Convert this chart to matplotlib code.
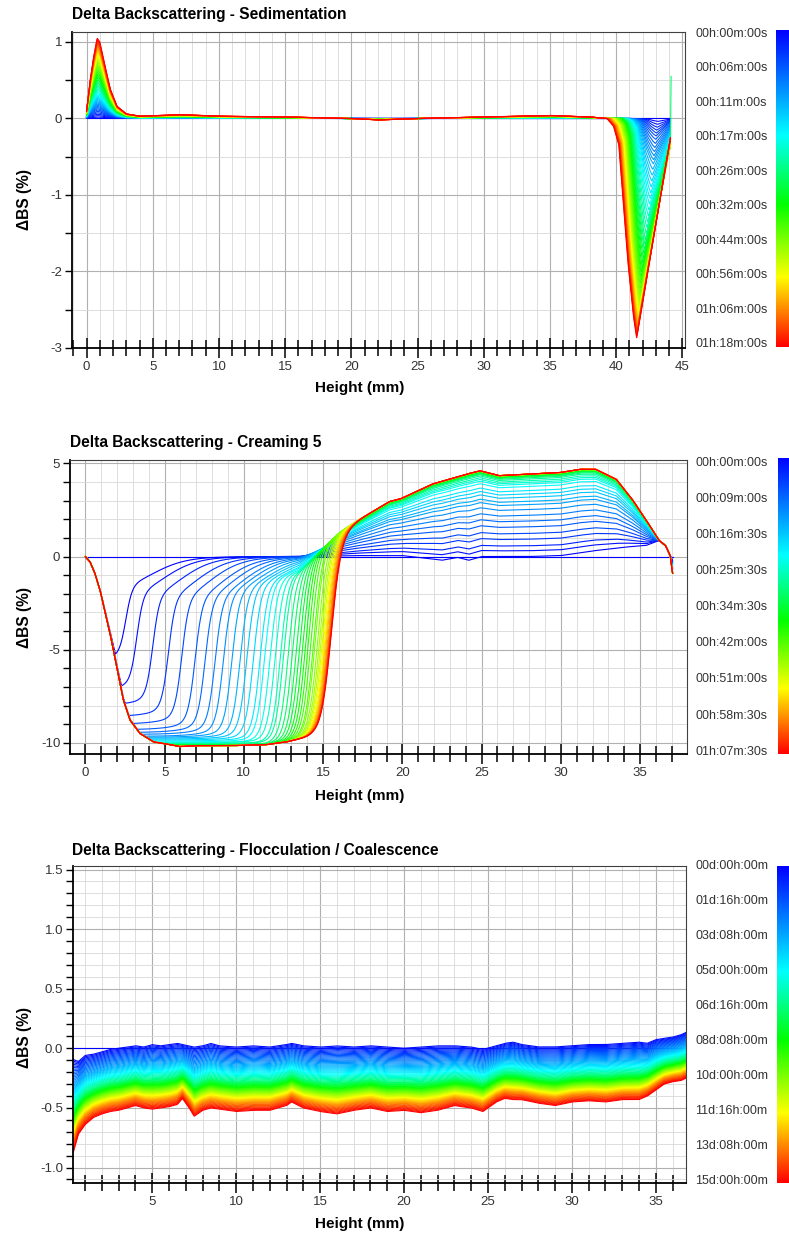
import numpy as np
import matplotlib
matplotlib.use("Agg")
import matplotlib.pyplot as plt
from matplotlib.colors import LinearSegmentedColormap
from matplotlib.ticker import FixedLocator, FormatStrFormatter

plt.rcParams['font.family'] = ['Liberation Sans', 'DejaVu Sans']
plt.rcParams['axes.unicode_minus'] = False

# time colour scale (blue = start, red = end)
cmap = LinearSegmentedColormap.from_list(
    'bs_time', [(0, '#0000ff'), (0.33, '#00ffff'), (0.55, '#00ff00'),
                (0.78, '#ffff00'), (1, '#ff0000')])

# ---------------- panel 1 : sedimentation ----------------
sed_times = ['00h:00m:00s', '00h:06m:00s', '00h:11m:00s', '00h:17m:00s', '00h:26m:00s',
             '00h:32m:00s', '00h:44m:00s', '00h:56m:00s', '01h:06m:00s', '01h:18m:00s']
# values read at each colourbar time
sed_peak = [0, 0.12, 0.22, 0.32, 0.45, 0.58, 0.72, 0.84, 0.95, 1.05]
sed_depth = [0, 0.25, 0.6, 1.1, 1.6, 2.0, 2.35, 2.6, 2.75, 2.87]
sed_min_x = [43.2, 43.0, 42.8, 42.55, 42.2, 41.95, 41.8, 41.7, 41.6, 41.55]
sed_onset_x = [41.8, 41.3, 41.0, 40.8, 40.6, 40.4, 40.1, 39.8, 39.5, 39.3]
sed_end_y = [0, -0.05, -0.15, -0.25, -0.3, -0.35, -0.35, -0.3, -0.28, -0.25]
# last profile: peak at the bottom of the tube and flat middle
sed_shape_x = [0, 0.25, 0.5, 0.8, 1.0, 1.4, 1.8, 2.3, 3.0, 4.0, 7, 10, 15, 20, 22, 25, 30, 35, 38, 39.3, 44.1]
sed_shape_y = [0.1, 0.47, 0.77, 1.05, 1.0, 0.68, 0.38, 0.16, 0.06, 0.03, 0.05, 0.03, 0.02, 0.0,
               -0.02, 0.0, 0.02, 0.04, 0.02, 0.0, 0.0]
# shape of the dip at the top (fraction of width, fraction of depth)
sed_dip_u = [0, 0.22, 0.4, 0.53, 0.71, 0.89, 1]
sed_dip_v = [0, 0.035, 0.12, 0.35, 0.66, 0.9, 1]
sed_end_x = 44.1

# ---------------- panel 2 : creaming ----------------
cream_times = ['00h:00m:00s', '00h:09m:00s', '00h:16m:30s', '00h:25m:30s', '00h:34m:30s',
               '00h:42m:00s', '00h:51m:00s', '00h:58m:30s', '01h:07m:30s']
# clarification front of each scan (mm) and its lowest level (%)
cream_front = [2.55, 3.24, 4.25, 5.24, 6.08, 6.92, 7.55, 8.18, 8.7, 9.24, 9.76, 10.18, 10.6, 11.02,
               11.3, 11.65, 11.97, 12.3, 12.5, 12.8, 13.06, 13.3, 13.5, 13.7, 13.88, 14.05, 14.22,
               14.4, 14.5, 14.66, 14.78, 14.88, 14.97, 15.05, 15.12, 15.18, 15.24, 15.3, 15.35,
               15.4, 15.43, 15.46, 15.48, 15.5]
cream_bottom = [-5.6, -7.2, -8.0, -8.6, -9.0, -9.3, -9.45, -9.55, -9.65, -9.7, -9.75, -9.8, -9.85,
                -9.9, -9.95, -10.0, -10.0, -10.05, -10.05, -10.1, -10.1, -10.1, -10.1, -10.15,
                -10.15, -10.15, -10.15, -10.2, -10.2, -10.2, -10.2, -10.2, -10.2, -10.2, -10.2,
                -10.2, -10.2, -10.2, -10.2, -10.2, -10.2, -10.2, -10.2, -10.2]
# level of the cream layer, as a fraction between the first and last scan
cream_level = [0.0, 0.07, 0.13, 0.21, 0.28, 0.36, 0.43, 0.5, 0.57, 0.63, 0.67, 0.72, 0.76, 0.8,
               0.85, 0.88, 0.9, 0.92, 0.94, 0.955, 0.965, 0.975, 0.98, 0.985, 0.99, 0.99, 0.993,
               0.995, 0.996, 0.997, 0.998, 0.998, 0.999, 0.999, 1, 1, 1, 1, 1, 1, 1, 1, 1, 1]
# bottom of the tube, descending edge of the last scan
cream_desc_x = [0, 0.3, 0.6, 0.93, 1.56, 1.98, 2.4, 2.82, 3.45, 4.3, 5.1, 5.97, 7.0, 9.33, 11.4,
                12.7, 13.5, 14.4, 16, 37.2]
cream_desc_y = [0, -0.3, -0.9, -1.82, -4.14, -5.93, -7.7, -8.78, -9.5, -9.95, -10.06, -10.2,
                -10.15, -10.15, -10.1, -9.95, -9.8, -9.65, -9.6, -9.6]
# cream layer of the last scan
cream_top_x = [0, 13.5, 17.3, 19.2, 19.9, 21.9, 24.1, 24.9, 26.1, 28.2, 29.9, 31.2, 32.2, 33.5,
               34.5, 35.4, 36.2, 36.6, 36.9, 37.05]
cream_top_y = [0, 0, 2.0, 2.95, 3.1, 3.89, 4.43, 4.6, 4.34, 4.43, 4.5, 4.68, 4.68, 4.14, 3.07,
               1.93, 0.86, 0.59, 0.05, -0.9]
# cream layer of the first scan
cream_first_x = [0, 14, 17, 20, 21, 22.5, 23.5, 24.2, 25, 28, 30, 32, 34, 35.4, 36.2, 36.6, 36.9, 37.05]
cream_first_y = [0, 0, 0.05, 0.05, -0.05, -0.2, -0.05, -0.2, 0, 0, 0.05, 0.3, 0.5, 0.6, 0.86,
                 0.59, 0.05, -0.2]

# ---------------- panel 3 : flocculation / coalescence ----------------
floc_times = ['00d:00h:00m', '01d:16h:00m', '03d:08h:00m', '05d:00h:00m', '06d:16h:00m',
              '08d:08h:00m', '10d:00h:00m', '11d:16h:00m', '13d:08h:00m', '15d:00h:00m']
floc_x = [0.3, 0.6, 1.0, 1.5, 2.0, 2.5, 3.0, 3.5, 4.0, 4.5, 5.0, 5.5, 6.0, 6.5, 6.8, 7.2, 7.5, 8.0,
          8.5, 9.0, 10, 11, 12, 13, 13.3, 14, 15, 16, 17, 18, 19, 20, 21, 22, 23, 24, 24.7, 25.5,
          26, 26.5, 27, 28, 29, 30, 31, 32, 33, 34, 34.5, 35, 35.5, 36, 36.5, 36.8]
floc_top = [-0.08, -0.1, -0.05, -0.04, -0.02, 0.0, 0.01, 0.02, 0.03, 0.02, 0.04, 0.03, 0.04, 0.05,
            0.04, 0.03, 0.02, 0.03, 0.05, 0.03, 0.02, 0.03, 0.02, 0.04, 0.05, 0.03, 0.02, 0.03,
            0.02, 0.03, 0.02, 0.01, 0.02, 0.03, 0.03, 0.02, 0.0, 0.03, 0.05, 0.06, 0.04, 0.02,
            0.02, 0.03, 0.04, 0.04, 0.05, 0.06, 0.05, 0.08, 0.09, 0.1, 0.12, 0.14]
floc_bottom = [-0.87, -0.72, -0.64, -0.58, -0.55, -0.53, -0.52, -0.5, -0.48, -0.5, -0.51, -0.5,
               -0.49, -0.47, -0.42, -0.5, -0.57, -0.52, -0.5, -0.51, -0.53, -0.52, -0.52, -0.48,
               -0.45, -0.5, -0.53, -0.55, -0.52, -0.5, -0.53, -0.52, -0.54, -0.52, -0.48, -0.5,
               -0.53, -0.45, -0.42, -0.43, -0.43, -0.46, -0.48, -0.45, -0.44, -0.45, -0.43, -0.43,
               -0.4, -0.35, -0.3, -0.28, -0.27, -0.25]
# position of each colourbar time inside the band (0 = top, 1 = bottom)
floc_level = [0, 0.15, 0.3, 0.43, 0.55, 0.64, 0.72, 0.8, 0.89, 1.0]

W, H = 789, 1236
fig = plt.figure(figsize=(W / 100, H / 100), dpi=100)


def rect(left, top, right, bottom):
    return [left / W, 1 - bottom / H, (right - left) / W, (bottom - top) / H]


def style(ax, xlim, ylim, xmaj, xmin, ymaj, ymin, yfmt):
    ax.set_xlim(*xlim)
    ax.set_ylim(*ylim)
    ax.xaxis.set_major_locator(FixedLocator(xmaj))
    ax.xaxis.set_minor_locator(FixedLocator(xmin))
    ax.yaxis.set_major_locator(FixedLocator(ymaj))
    ax.yaxis.set_minor_locator(FixedLocator(ymin))
    ax.yaxis.set_major_formatter(FormatStrFormatter(yfmt))
    ax.grid(which='major', color='#b0b0b0', lw=0.8)
    ax.grid(which='minor', color='#d8d8d8', lw=0.6)
    ax.set_axisbelow(True)
    ax.tick_params(axis='x', which='major', direction='inout', length=15, width=1.1,
                   labelsize=9.5, labelcolor='#333333', pad=2)
    ax.tick_params(axis='x', which='minor', direction='inout', length=11, width=1.1)
    ax.tick_params(axis='y', which='both', direction='out', length=5, width=1.0,
                   labelsize=9.5, labelcolor='#333333', pad=2)
    for s in ['left', 'bottom']:
        ax.spines[s].set_linewidth(1.3)
        ax.spines[s].set_color('black')
    for s in ['top', 'right']:
        ax.spines[s].set_linewidth(0.8)
        ax.spines[s].set_color('#404040')


def colorbar(cb_rect, labels, y_top, y_bot):
    cax = fig.add_axes(cb_rect)
    cax.imshow(np.linspace(0, 1, 256)[:, None], aspect='auto', cmap=cmap)
    cax.axis('off')
    for lab, yy in zip(labels, np.linspace(y_top, y_bot, len(labels))):
        fig.text(695 / W, 1 - yy / H, lab, fontsize=9, color='#333333', va='center', ha='left')


def labels(title, title_x, title_y, xlab_y, ylab_y):
    fig.text(title_x / W, 1 - title_y / H, title, fontsize=11.2, fontweight='bold', va='center')
    fig.text(360 / W, 1 - xlab_y / H, 'Height (mm)', fontsize=11, fontweight='bold',
             va='center', ha='center')
    fig.text(25 / W, 1 - ylab_y / H, 'ΔBS (%)', fontsize=11.2, fontweight='bold',
             va='center', ha='center', rotation=90)


def logistic(z):
    return 1 / (1 + np.exp(-z))


# ---- panel 1
ax1 = fig.add_axes(rect(72, 32, 685, 348))
style(ax1, (-1.1, 45.2), (-3, 1.13), np.arange(0, 46, 5), np.arange(-1, 46, 1),
      [-3, -2, -1, 0, 1], np.arange(-3, 1.1, 0.5), '%d')
lab_f = np.linspace(0, 1, len(sed_times))
n1 = 60
x1 = np.linspace(0, sed_end_x, 1400)
base1 = np.interp(x1, sed_shape_x, sed_shape_y) / 1.05
ax1.plot([0, sed_end_x], [0, 0], color=cmap(0.0), lw=0.8)
for f in np.linspace(0, 1, n1)[1:]:
    h = np.interp(f, lab_f, sed_peak)
    d = np.interp(f, lab_f, sed_depth)
    m = np.interp(f, lab_f, sed_min_x)
    L = np.interp(f, lab_f, sed_onset_x)
    e = np.interp(f, lab_f, sed_end_y)
    left = -d * np.interp((x1 - L) / (m - L), sed_dip_u, sed_dip_v)
    right = -d + (d + e) * (x1 - m) / (sed_end_x - m)
    y = base1 * h + np.where(x1 <= m, left, right)
    xs, ys = x1, y
    if abs(f - 0.45) < 0.5 / n1:
        xs, ys = np.append(x1, 44.15), np.append(y, 0.55)
    ax1.plot(xs, ys, color=cmap(f), lw=0.8)
colorbar(rect(776, 30, 789, 347), sed_times, 34, 344)
labels('Delta Backscattering - Sedimentation', 72, 15, 388, 200)

# ---- panel 2
ax2 = fig.add_axes(rect(70, 460, 687, 754))
style(ax2, (-0.97, 37.96), (-10.6, 5.18), np.arange(0, 36, 5), np.arange(0, 38, 1),
      [-10, -5, 0, 5], np.arange(-10, 6, 1), '%d')
x2 = np.linspace(0, 37.05, 1600)
desc = np.interp(x2, cream_desc_x, cream_desc_y)
top = np.interp(x2, cream_top_x, cream_top_y)
first = np.interp(x2, cream_first_x, cream_first_y)
n2 = len(cream_front)
ax2.plot([0, 37.05], [0, 0], color=cmap(0.0), lw=0.8)
for k in range(n2):
    F = cream_front[k]
    wl = np.interp(F, [2, 14, 15.6], [0.2, 0.26, 0.32])
    tail = np.interp(F, [2, 8, 12, 14.5], [0.35, 0.3, 0.15, 0.0])
    D = np.maximum(desc, cream_bottom[k])
    P = first + cream_level[k] * (top - first)
    r = (1 - tail) * logistic((x2 - F) / wl) + tail * logistic((x2 - F - 1.6) / 1.1)
    ax2.plot(x2, D + (P - D) * r, color=cmap(k / (n2 - 1)), lw=0.8)
colorbar(rect(778, 458, 789, 754), cream_times, 462.7, 751.7)
labels('Delta Backscattering - Creaming 5', 70, 443, 796, 618)

# ---- panel 3
ax3 = fig.add_axes(rect(72.7, 866, 686, 1183))
style(ax3, (0.26, 36.8), (-1.13, 1.53), np.arange(5, 36, 5), np.arange(1, 37, 1),
      [-1.0, -0.5, 0.0, 0.5, 1.0, 1.5], np.arange(-1.1, 1.55, 0.1), '%.1f')
x3 = np.linspace(0.3, 36.8, 1600)
ftop = np.interp(x3, floc_x, floc_top)
fbot = np.interp(x3, floc_x, floc_bottom)
lab_f3 = np.linspace(0, 1, len(floc_times))
n3 = 80
ax3.plot([0.26, 36.8], [0, 0], color=cmap(0.0), lw=0.8)
for f in np.linspace(0, 1, n3)[1:]:
    g = np.interp(f, lab_f3, floc_level)
    ax3.plot(x3, ftop + g * (fbot - ftop), color=cmap(f), lw=0.8)
colorbar(rect(777, 866, 789, 1183), floc_times, 866, 1181)
labels('Delta Backscattering - Flocculation / Coalescence', 72, 851, 1224, 1037)

fig.savefig('out.png', dpi=100)
